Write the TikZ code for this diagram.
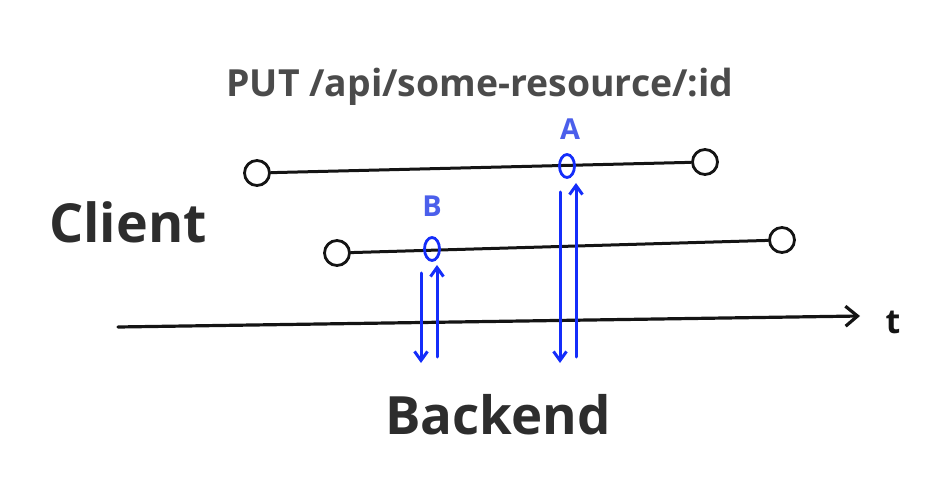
\documentclass[tikz,border=0pt]{standalone}
\usepackage{fontspec}
\setmainfont{Open Sans}
\usetikzlibrary{arrows.meta,shapes.geometric}
\definecolor{ink}{RGB}{20,20,20}
\definecolor{blueink}{RGB}{20,45,250}
\definecolor{labelblue}{RGB}{75,95,235}
\definecolor{titlegray}{RGB}{75,75,75}
\definecolor{wordgray}{RGB}{45,45,45}
\begin{document}
\begin{tikzpicture}[x=1bp,y=-1bp,
  blob/.style={circle,draw=ink,line width=2.8bp,minimum size=25bp,inner sep=0pt},
  tline/.style={draw=ink,line width=3bp,line cap=round},
  evt/.style={ellipse,draw=blueink,line width=2.8bp,minimum width=15bp,minimum height=23bp,inner sep=0pt},
  req/.style={draw=blueink,line width=3bp,line cap=round,-{Straight Barb[length=9bp,width=13bp,line width=3bp]}},
  axis/.style={draw=ink,line width=3.2bp,line cap=round,-{Straight Barb[length=12bp,width=20bp,line width=3.2bp]}},
  evtlabel/.style={text=labelblue,font=\fontsize{29}{29}\selectfont\bfseries,anchor=base,inner sep=0pt},
  bigword/.style={text=wordgray,font=\fontsize{54}{54}\selectfont\bfseries,anchor=base,inner sep=0pt}
]
\useasboundingbox (0,0) rectangle (942,488);

% title
\node[text=titlegray,font=\fontsize{37.5}{37.5}\selectfont\bfseries,anchor=base,inner sep=0pt] (title) at (480,97) {PUT /api/some-resource/:id};

% side labels
\node[bigword] (client) at (128,243) {Client};
\node[bigword,font=\fontsize{53}{53}\selectfont\bfseries] (backend) at (498,434) {Backend};
\node[text=ink,font=\fontsize{34}{34}\selectfont\bfseries,anchor=base,inner sep=0pt] (tlabel) at (893,334) {t};

% client timelines
\node[blob] (c1) at (257,173) {};
\node[blob] (c2) at (705,162) {};
\node[blob] (c3) at (337,253) {};
\node[blob] (c4) at (782,240) {};
\draw[tline] (c1) -- (c2);
\draw[tline] (c3) -- (c4);

% time axis
\coordinate (ax0) at (118,327);
\coordinate (ax1) at (860,316);
\draw[axis] (ax0) -- (ax1);

% events
\node[evt] (ea) at (567,166) {};
\node[evt] (eb) at (432,249) {};
\node[evtlabel] (la) at (570,140) {A};
\node[evtlabel] (lb) at (432,217) {B};

% requests / responses
\coordinate (bd0) at (421,273);
\coordinate (bd1) at (421,363);
\coordinate (bu0) at (437,357);
\coordinate (bu1) at (437,265);
\coordinate (ad0) at (560,192);
\coordinate (ad1) at (560,363);
\coordinate (au0) at (576,357);
\coordinate (au1) at (576,183);
\draw[req] (bd0) -- (bd1);
\draw[req] (bu0) -- (bu1);
\draw[req] (ad0) -- (ad1);
\draw[req] (au0) -- (au1);
\end{tikzpicture}
\end{document}
